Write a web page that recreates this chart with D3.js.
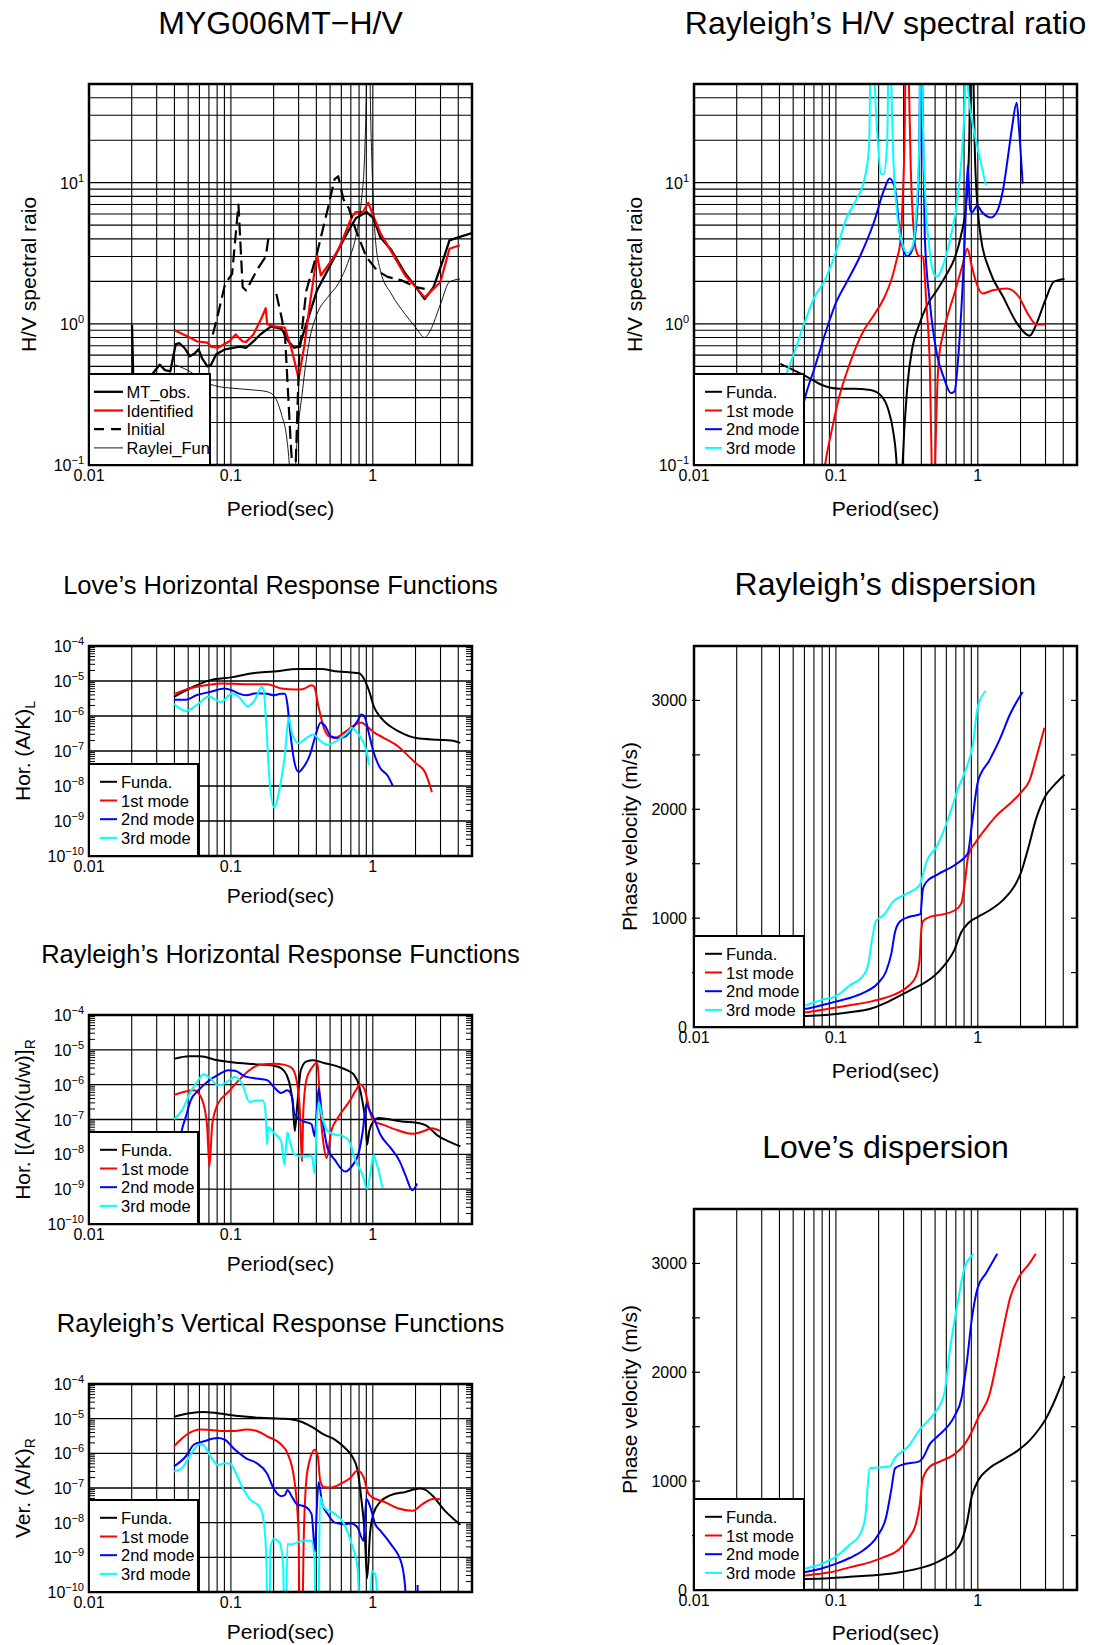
<!DOCTYPE html>
<html>
<head>
<meta charset="utf-8">
<script src="https://cdn.jsdelivr.net/npm/d3@7"></script>
<style>
  body { margin: 0; background: #fff; }
  svg { display: block; }
</style>
</head>
<body>
<script>
// ---------- axes ----------
const periodDomain = [0.01, 5];
const periodLabels = [0.01, 0.1, 1];
const hvDomain = [0.1, 50];
const respDomain = [1e-10, 1e-4];
const velDomain = [0, 3500];
const velLabels = [0, 1000, 2000, 3000];
const velMinorStep = 500;
const modeNames = ["Funda.", "1st mode", "2nd mode", "3rd mode"];
const modeColors = ["#000000", "#ff0000", "#0000ff", "#00ffff"];

// ---------- observed / identified H/V (period s, H/V) ----------
const hvMtObs = [[0.0201,0.98],[0.0205,0.42],[0.025,0.38],[0.0289,0.46],[0.0315,0.514],[0.0343,0.47],[0.0374,0.46],[0.0408,0.715],[0.0432,0.73],[0.047,0.677],[0.0513,0.59],[0.0559,0.62],[0.0592,0.66],[0.0627,0.57],[0.0683,0.50],[0.0723,0.51],[0.0788,0.61],[0.091,0.66],[0.1146,0.69],[0.128,0.677],[0.144,0.75],[0.161,0.84],[0.192,0.96],[0.228,0.92],[0.255,0.75],[0.279,0.677],[0.303,0.69],[0.34,0.995],[0.404,1.72],[0.48,2.39],[0.57,3.33],[0.677,4.6],[0.759,5.6],[0.902,6.2],[1.01,5.6],[1.13,4.1],[1.35,3.33],[1.69,2.28],[2.01,1.82],[2.32,1.50],[2.68,1.82],[3.18,2.98],[3.47,3.9],[4.0,4.1],[5.0,4.4]];
const hvIdentified = [[0.0401,0.9],[0.0513,0.80],[0.058,0.75],[0.0683,0.735],[0.0723,0.69],[0.081,0.677],[0.097,0.75],[0.108,0.84],[0.121,0.75],[0.128,0.745],[0.144,0.84],[0.161,1.05],[0.176,1.29],[0.18,0.995],[0.203,0.96],[0.24,0.94],[0.27,0.64],[0.30,0.41],[0.33,0.71],[0.36,1.38],[0.404,3.1],[0.43,2.2],[0.51,2.8],[0.57,3.33],[0.64,4.4],[0.71,5.7],[0.759,6.2],[0.85,6.2],[0.93,7.2],[1.01,5.8],[1.13,4.4],[1.35,3.25],[1.69,2.2],[2.01,1.82],[2.32,1.54],[2.99,1.97],[3.47,3.4],[4.1,3.6]];
const hvInitial = [[0.0745,0.84],[0.0811,1.17],[0.091,1.92],[0.102,2.26],[0.113,7.0],[0.121,1.82],[0.128,1.72],[0.152,2.39],[0.176,3.0],[0.186,4.39],[0.196,null],[0.209,1.63],[0.228,1.1],[0.241,0.80],[0.263,0.153],[0.27,0.1],[0.278,0.03],[0.286,0.1],[0.303,0.607],[0.34,1.72],[0.404,3.15],[0.48,6.44],[0.538,10.6],[0.57,11.1],[0.621,7.62],[0.677,6.6],[0.759,4.6],[0.902,2.97],[1.07,2.39],[1.27,2.15],[1.60,2.03],[2.01,1.82],[2.32,1.77]];
const hvRayleiFun = [[0.0401,0.514],[0.0513,0.46],[0.0644,0.391],[0.0811,0.36],[0.102,0.35],[0.144,0.34],[0.181,0.33],[0.203,0.305],[0.228,0.225],[0.248,0.153],[0.258,0.1],[0.272,0.03],[0.286,0.1],[0.321,0.35],[0.361,0.80],[0.404,1.17],[0.48,1.54],[0.57,1.92],[0.677,2.83],[0.759,4.15],[0.828,7.19],[0.877,16.4],[0.905,60],[0.93,1000],[0.955,60],[0.989,12.5],[1.04,4.15],[1.13,2.39],[1.35,1.63],[1.69,1.17],[2.01,0.94],[2.32,0.80],[2.53,0.89],[3.0,1.38],[3.47,1.98],[4.12,2.08]];

// ---------- Rayleigh H/V by mode ----------
const rhvFunda = [[0.0406,0.52],[0.0503,0.47],[0.063,0.42],[0.079,0.37],[0.105,0.347],[0.132,0.347],[0.175,0.34],[0.208,0.31],[0.233,0.25],[0.254,0.17],[0.268,0.1],[0.281,0.02],[0.295,0.1],[0.318,0.351],[0.346,0.68],[0.388,1.0],[0.433,1.32],[0.515,1.73],[0.61,2.29],[0.68,2.85],[0.76,4.19],[0.83,7.26],[0.87,19.6],[0.885,60],[0.905,400],[0.933,50],[0.961,12.6],[1.047,4.19],[1.205,2.42],[1.51,1.55],[1.90,1.0],[2.32,0.824],[2.59,1.0],[2.99,1.47],[3.44,1.99],[4.08,2.08]];
const rhvMode1 = [[0.08,0.07],[0.0839,0.1],[0.094,0.181],[0.105,0.298],[0.125,0.52],[0.157,0.896],[0.185,1.15],[0.22,1.55],[0.246,2.05],[0.268,2.85],[0.284,3.75],[0.295,7.26],[0.305,21.9],[0.316,400],[0.327,50],[0.337,12.6],[0.356,4.19],[0.366,3.36],[0.388,3.01],[0.41,3.01],[0.434,1.39],[0.46,0.462],[0.473,0.1],[0.487,0.02],[0.501,0.1],[0.53,0.546],[0.577,0.896],[0.684,1.64],[0.788,2.70],[0.844,3.40],[0.908,2.55],[0.961,2.05],[1.076,1.64],[1.276,1.73],[1.60,1.78],[1.95,1.55],[2.25,1.18],[2.59,0.989],[2.99,0.989]];
const rhvMode2 = [[0.055,0.2],[0.0614,0.315],[0.0708,0.489],[0.0839,0.847],[0.0995,1.39],[0.118,1.94],[0.148,3.01],[0.185,5.22],[0.22,9.06],[0.239,10.7],[0.261,9.06],[0.284,4.19],[0.318,3.01],[0.346,3.36],[0.377,7.26],[0.388,21.9],[0.397,400],[0.406,50],[0.423,4.19],[0.46,1.39],[0.515,0.609],[0.577,0.414],[0.646,0.323],[0.684,0.332],[0.745,0.802],[0.811,4.19],[0.849,13.3],[0.883,6.50],[0.908,6.15],[0.989,6.87],[1.076,6.15],[1.24,5.67],[1.39,6.50],[1.51,9.06],[1.65,16.6],[1.74,24.4],[1.88,36.9],[1.95,24.4],[2.07,9.84]];
const rhvMode3 = [[0.045,0.45],[0.0504,0.609],[0.0597,1.0],[0.0708,1.55],[0.0839,2.05],[0.0995,3.18],[0.118,5.52],[0.14,7.67],[0.157,10.1],[0.171,17.5],[0.18,400],[0.188,50],[0.196,21.9],[0.208,11.6],[0.217,11.5],[0.23,19.6],[0.239,400],[0.246,50],[0.253,16.6],[0.268,6.5],[0.292,3.75],[0.318,3.18],[0.346,3.5],[0.366,5.52],[0.388,21.9],[0.397,400],[0.406,50],[0.423,9.57],[0.46,3.18],[0.487,2.29],[0.515,2.16],[0.577,2.70],[0.646,4.19],[0.724,8.11],[0.788,21.9],[0.815,45],[0.835,400],[0.849,50],[0.933,24.4],[1.047,14.1],[1.14,9.57]];

// ---------- Love horizontal response ----------
const lhFunda = [[0.0397,3.5e-6],[0.051,6.1e-6],[0.072,1.06e-5],[0.1,1.27e-5],[0.143,1.67e-5],[0.2,1.86e-5],[0.3,2.19e-5],[0.43,2.19e-5],[0.57,1.86e-5],[0.71,1.75e-5],[0.8,1.67e-5],[0.877,1.06e-5],[0.955,4.35e-6],[1.01,2.0e-6],[1.135,9.1e-7],[1.27,5.8e-7],[1.51,3.7e-7],[2.02,2.35e-7],[2.85,2.1e-7],[3.58,2.0e-7],[4.14,1.7e-7]];
const lhMode1 = [[0.0397,4.2e-6],[0.051,6.1e-6],[0.072,7.9e-6],[0.0854,8.5e-6],[0.128,8.1e-6],[0.18,8.1e-6],[0.227,6.1e-6],[0.286,5.7e-6],[0.32,5.8e-6],[0.37,7.6e-6],[0.387,6.8e-6],[0.415,1.78e-6],[0.452,4.6e-7],[0.493,2.6e-7],[0.537,2.35e-7],[0.603,2.96e-7],[0.676,4.2e-7],[0.759,5.8e-7],[0.827,6.5e-7],[0.902,5.2e-7],[1.01,3.5e-7],[1.20,2.35e-7],[1.51,1.35e-7],[1.80,6.9e-8],[2.02,4.4e-8],[2.33,2.5e-8],[2.61,6.6e-9]];
const lhMode2 = [[0.0397,2.9e-6],[0.048,2.9e-6],[0.057,3.9e-6],[0.072,4.9e-6],[0.09,6.1e-6],[0.101,5.5e-6],[0.114,4.35e-6],[0.128,3.9e-6],[0.152,4.5e-6],[0.18,4.35e-6],[0.2,3.9e-6],[0.226,4.35e-6],[0.24,4.35e-6],[0.25,2.2e-6],[0.26,4.6e-7],[0.28,4.9e-8],[0.3,2.5e-8],[0.32,3.2e-8],[0.36,7.7e-8],[0.39,2.35e-7],[0.43,6.5e-7],[0.46,5.2e-7],[0.51,2.6e-7],[0.57,2.35e-7],[0.64,2.6e-7],[0.71,4.2e-7],[0.78,7.2e-7],[0.83,1.1e-6],[0.88,9.1e-7],[0.93,3.7e-7],[1.01,9.6e-8],[1.13,3.2e-8],[1.27,2.0e-8],[1.38,1.03e-8]];
const lhMode3 = [[0.0397,2.2e-6],[0.048,1.4e-6],[0.057,2.0e-6],[0.07,3.6e-6],[0.085,2.5e-6],[0.101,4.35e-6],[0.114,3.5e-6],[0.131,1.9e-6],[0.147,2.8e-6],[0.165,6.8e-6],[0.17,5.5e-6],[0.178,4.6e-7],[0.186,2.0e-8],[0.202,2.4e-9],[0.22,8.3e-9],[0.24,7.7e-8],[0.255,9.1e-7],[0.27,3.0e-7],[0.3,1.7e-7],[0.34,2.35e-7],[0.38,2.96e-7],[0.43,1.9e-7],[0.48,1.5e-7],[0.57,2.1e-7],[0.68,3.7e-7],[0.71,4.6e-7],[0.76,3.7e-7],[0.85,1.9e-7],[0.9,1.07e-7],[0.94,4.0e-8]];

// ---------- Rayleigh horizontal response ----------
const rhFunda = [[0.0397,5.5e-6],[0.051,6.5e-6],[0.0605,6.5e-6],[0.0806,5.0e-6],[0.114,4.2e-6],[0.143,3.9e-6],[0.2,3.5e-6],[0.227,2.95e-6],[0.247,1.9e-6],[0.262,8.7e-7],[0.273,2.8e-7],[0.282,4.7e-8],[0.294,2.8e-7],[0.311,2.6e-6],[0.339,4.6e-6],[0.381,5.0e-6],[0.452,4.2e-6],[0.57,3.3e-6],[0.658,2.6e-6],[0.738,1.9e-6],[0.804,8.7e-7],[0.851,2.8e-7],[0.891,7.3e-8],[0.912,1.9e-8],[0.944,4.7e-8],[1.01,8.7e-8],[1.10,1.1e-7],[1.27,1.03e-7],[1.60,8.7e-8],[2.02,8.1e-8],[2.40,6.6e-8],[2.85,3.5e-8],[3.38,2.4e-8],[4.14,1.7e-8]];
const rhMode1 = [[0.0397,5.1e-7],[0.048,6.4e-7],[0.055,6.9e-7],[0.0622,4.0e-7],[0.0678,7.3e-8],[0.0706,4.5e-9],[0.0739,7.3e-8],[0.081,2.8e-7],[0.096,6.2e-7],[0.114,1.35e-6],[0.135,2.6e-6],[0.16,3.7e-6],[0.2,4.0e-6],[0.24,3.7e-6],[0.27,2.95e-6],[0.29,1.35e-6],[0.306,1.8e-7],[0.317,6.2e-9],[0.324,1.8e-7],[0.34,1.35e-6],[0.37,2.95e-6],[0.403,4.2e-6],[0.41,3.3e-6],[0.427,1.8e-7],[0.45,1.9e-8],[0.473,7.8e-9],[0.51,4.7e-8],[0.57,1.15e-7],[0.68,3.2e-7],[0.76,6.9e-7],[0.813,1.03e-6],[0.88,6.9e-7],[0.95,1.8e-7],[1.01,9.1e-8],[1.2,6.9e-8],[1.5,4.9e-8],[1.9,3.9e-8],[2.3,4.7e-8],[2.6,5.6e-8],[2.98,4.7e-8]];
const rhMode2 = [[0.043,1.5e-8],[0.045,4.7e-8],[0.048,1.15e-7],[0.052,3.5e-7],[0.059,6.9e-7],[0.068,1.2e-6],[0.081,1.9e-6],[0.096,2.6e-6],[0.107,2.5e-6],[0.127,1.7e-6],[0.152,1.5e-6],[0.18,1.35e-6],[0.2,8.7e-7],[0.226,5.8e-7],[0.25,6.9e-7],[0.27,4.4e-7],[0.28,1.45e-7],[0.32,9.1e-8],[0.37,7.3e-8],[0.39,3.3e-8],[0.40,1.15e-7],[0.415,7.7e-7],[0.44,1.15e-7],[0.48,1.5e-8],[0.54,6.9e-9],[0.64,3.2e-9],[0.71,4.5e-9],[0.80,1.2e-8],[0.85,4.7e-8],[0.90,2.8e-7],[0.95,1.8e-7],[1.01,1.15e-7],[1.13,3.7e-8],[1.34,1.5e-8],[1.55,6.2e-9],[1.7,2.5e-9],[1.9,9.3e-10],[2.05,1.45e-9]];
const rhMode3 = [[0.0397,1.02e-7],[0.045,1.8e-7],[0.052,6.2e-7],[0.059,1.35e-6],[0.064,2.0e-6],[0.072,1.5e-6],[0.081,9.6e-7],[0.09,1.07e-6],[0.101,1.5e-6],[0.107,1.7e-6],[0.12,1.07e-6],[0.135,3.2e-7],[0.152,3.5e-7],[0.168,3.5e-7],[0.175,1.8e-7],[0.18,1.9e-8],[0.183,6.0e-8],[0.2,4.2e-8],[0.226,2.4e-8],[0.238,5.0e-9],[0.25,4.2e-8],[0.26,2.4e-8],[0.28,9.8e-9],[0.32,8.7e-9],[0.37,9.3e-9],[0.39,2.8e-9],[0.40,4.7e-8],[0.415,3.2e-7],[0.44,1.15e-7],[0.48,4.7e-8],[0.54,3.7e-8],[0.62,3.3e-8],[0.68,2.4e-8],[0.76,6.2e-9],[0.85,2.5e-9],[0.91,1.03e-9],[0.98,5.0e-9],[1.01,9.8e-9],[1.07,5.0e-9],[1.17,1.1e-9]];

// ---------- Rayleigh vertical response ----------
const rvFunda = [[0.0397,1.14e-5],[0.051,1.43e-5],[0.064,1.56e-5],[0.081,1.43e-5],[0.114,1.19e-5],[0.16,1.06e-5],[0.226,1.0e-5],[0.27,9.5e-6],[0.32,7.9e-6],[0.38,5.5e-6],[0.45,3.5e-6],[0.54,2.5e-6],[0.64,1.4e-6],[0.716,8.1e-7],[0.781,3.3e-7],[0.827,5.5e-8],[0.877,4.7e-9],[0.912,2.5e-10],[0.955,4.7e-9],[1.01,1.8e-8],[1.13,4.0e-8],[1.34,6.2e-8],[1.7,7.7e-8],[2.14,9.6e-8],[2.33,9.0e-8],[2.69,5.5e-8],[3.19,2.3e-8],[3.69,1.3e-8],[4.14,8.7e-9]];
const rvMode1 = [[0.0397,1.6e-6],[0.051,3.9e-6],[0.0605,4.9e-6],[0.072,4.7e-6],[0.09,4.4e-6],[0.107,4.4e-6],[0.128,4.9e-6],[0.152,4.4e-6],[0.18,3.1e-6],[0.226,1.8e-6],[0.25,1.02e-6],[0.28,1.7e-7],[0.30,4.7e-9],[0.306,1e-12],[0.316,1e-12],[0.325,1.9e-9],[0.34,1.7e-7],[0.36,6.5e-7],[0.39,1.26e-6],[0.41,8.1e-7],[0.425,1.7e-7],[0.45,1.07e-7],[0.51,1.03e-7],[0.6,1.35e-7],[0.69,1.9e-7],[0.78,3.2e-7],[0.86,2.1e-7],[0.93,6.9e-8],[1.01,5.2e-8],[1.2,4.0e-8],[1.5,2.6e-8],[1.9,2.2e-8],[2.25,3.5e-8],[2.7,4.9e-8],[3.0,4.7e-8]];
const rvMode2 = [[0.0397,4.2e-7],[0.048,8.1e-7],[0.055,1.8e-6],[0.064,2.2e-6],[0.081,2.75e-6],[0.09,2.5e-6],[0.107,1.26e-6],[0.128,7.2e-7],[0.152,5.2e-7],[0.18,2.6e-7],[0.2,9.6e-8],[0.226,5.8e-8],[0.24,6.2e-8],[0.25,8.7e-8],[0.27,5.5e-8],[0.29,3.5e-8],[0.34,2.8e-8],[0.37,1.8e-8],[0.392,1.5e-9],[0.40,1.2e-8],[0.415,1.5e-7],[0.44,3.5e-8],[0.48,1.8e-8],[0.54,1.0e-8],[0.64,9.0e-9],[0.71,9.5e-9],[0.78,7.3e-9],[0.86,3.0e-9],[0.90,4.9e-8],[0.96,2.8e-8],[1.04,9.0e-9],[1.13,5.9e-9],[1.34,2.4e-9],[1.6,6.3e-10],[1.7,1e-10],[1.75,1e-12],[1.9,null],[2.04,1e-12],[2.07,1.6e-10]];
const rvMode3 = [[0.0397,3.0e-7],[0.045,3.7e-7],[0.052,9.1e-7],[0.06,1.8e-6],[0.063,1.8e-6],[0.072,8.1e-7],[0.081,4.6e-7],[0.09,5.2e-7],[0.099,5.0e-7],[0.107,3.0e-7],[0.12,1.07e-7],[0.135,4.9e-8],[0.16,2.8e-8],[0.17,1.15e-8],[0.178,7.9e-10],[0.182,1e-12],[0.186,1e-12],[0.19,1.9e-9],[0.2,3.4e-9],[0.22,2.7e-9],[0.234,5.0e-10],[0.238,1e-12],[0.242,1e-12],[0.25,2.4e-9],[0.27,2.4e-9],[0.32,3.0e-9],[0.37,3.0e-9],[0.39,6.3e-10],[0.395,1e-12],[0.41,1e-12],[0.425,5.5e-8],[0.45,2.8e-8],[0.54,1.8e-8],[0.62,1.0e-8],[0.71,2.4e-9],[0.78,5.0e-10],[0.83,1e-12],[0.93,1e-12],[0.98,4.0e-10],[1.04,3.2e-10],[1.13,1e-12]];

// ---------- Rayleigh dispersion (period s, m/s) ----------
const rdFunda = [[0.04,95],[0.0614,102],[0.0887,112],[0.125,135],[0.175,167],[0.22,217],[0.276,282],[0.346,348],[0.41,397],[0.487,463],[0.577,561],[0.684,709],[0.766,873],[0.858,955],[1.0,1011],[1.205,1070],[1.51,1168],[1.79,1283],[2.01,1415],[2.25,1628],[2.59,1923],[2.99,2120],[3.44,2219],[4.08,2317]];
const rdMode1 = [[0.04,120],[0.0614,135],[0.0887,167],[0.125,200],[0.175,233],[0.22,266],[0.276,315],[0.327,381],[0.366,463],[0.388,610],[0.399,873],[0.41,971],[0.46,1011],[0.545,1030],[0.684,1070],[0.766,1136],[0.811,1332],[0.858,1579],[0.961,1693],[1.14,1825],[1.35,1940],[1.69,2054],[2.01,2153],[2.32,2268],[2.59,2481],[2.95,2750]];
const rdMode2 = [[0.04,145],[0.0614,167],[0.0793,200],[0.0995,233],[0.125,266],[0.157,315],[0.196,397],[0.226,512],[0.246,676],[0.261,873],[0.284,971],[0.327,1011],[0.394,1037],[0.41,1267],[0.434,1332],[0.515,1398],[0.704,1497],[0.85,1595],[0.908,1858],[1.0,2251],[1.205,2448],[1.43,2645],[1.69,2875],[2.07,3078]];
const rdMode3 = [[0.04,170],[0.0614,200],[0.0793,249],[0.0995,282],[0.125,381],[0.157,479],[0.168,561],[0.18,807],[0.191,971],[0.22,1037],[0.253,1152],[0.309,1218],[0.388,1300],[0.41,1398],[0.434,1513],[0.515,1661],[0.61,1890],[0.724,2186],[0.858,2432],[0.919,2580],[1.0,2941],[1.14,3088]];

// ---------- Love dispersion ----------
const ldFunda = [[0.04,98],[0.0614,102],[0.0887,109],[0.125,121],[0.175,134],[0.22,144],[0.276,160],[0.346,185],[0.41,208],[0.487,240],[0.577,288],[0.684,351],[0.766,447],[0.834,607],[0.908,863],[1.0,1000],[1.205,1118],[1.51,1198],[1.90,1278],[2.32,1374],[2.67,1470],[2.99,1565],[3.44,1725],[4.08,1965]];
const ldMode1 = [[0.04,115],[0.0614,134],[0.0887,160],[0.125,208],[0.175,256],[0.22,304],[0.276,367],[0.327,479],[0.366,607],[0.388,767],[0.41,1022],[0.46,1134],[0.545,1182],[0.684,1246],[0.811,1342],[0.908,1454],[1.017,1597],[1.205,1789],[1.35,2077],[1.51,2396],[1.69,2684],[1.95,2875],[2.32,3003],[2.56,3089]];
const ldMode2 = [[0.04,140],[0.0614,166],[0.0793,198],[0.0995,240],[0.125,294],[0.157,367],[0.196,495],[0.226,671],[0.246,927],[0.261,1118],[0.292,1150],[0.388,1182],[0.41,1214],[0.46,1342],[0.515,1406],[0.684,1597],[0.766,1757],[0.834,2077],[0.908,2492],[1.0,2780],[1.14,2907],[1.37,3089]];
const ldMode3 = [[0.04,165],[0.0614,198],[0.0793,240],[0.0995,304],[0.125,415],[0.148,511],[0.161,671],[0.173,1118],[0.196,1125],[0.239,1134],[0.261,1214],[0.327,1326],[0.388,1470],[0.487,1613],[0.577,1789],[0.646,2268],[0.724,2652],[0.811,2971],[0.933,3083]];

// ---------- drawing ----------
const FONT = '"Liberation Sans", Arial, Helvetica, sans-serif';
const svg = d3.select("body").append("svg")
  .attr("width", 1095).attr("height", 1645)
  .attr("font-family", FONT);

const isDecade = v => Math.abs(Math.log10(v) - Math.round(Math.log10(v))) < 1e-6;
const expLabel = v => {
  const e = Math.round(Math.log10(v));
  return e < 0 ? "\u2212" + (-e) : String(e);
};
const fmtPeriod = d3.format("~g");
let clipCount = 0;

function drawPanel(p) {
  const g = svg.append("g");
  const x = d3.scaleLog().domain(periodDomain).range([p.left, p.right]);
  const y = (p.kind === "vel" ? d3.scaleLinear() : d3.scaleLog())
    .domain(p.yDomain).range([p.bottom, p.top]);

  // title
  g.append("text")
    .attr("x", (p.left + p.right) / 2).attr("y", p.titleY)
    .attr("text-anchor", "middle").attr("font-size", p.titleSize)
    .text(p.title);

  // vertical grid at every 1..9 multiple
  const xGrid = x.ticks().filter(v => v > periodDomain[0] * 1.0001 && v < periodDomain[1] * 0.9999);
  g.append("g").selectAll("line").data(xGrid).join("line")
    .attr("x1", d => x(d)).attr("x2", d => x(d))
    .attr("y1", p.top).attr("y2", p.bottom)
    .attr("stroke", "#000").attr("stroke-width", 1.1);

  // horizontal grid / ticks
  if (p.kind === "hv") {
    const yGrid = y.ticks().filter(v => v > p.yDomain[0] * 1.0001 && v < p.yDomain[1] * 0.9999);
    g.append("g").selectAll("line").data(yGrid).join("line")
      .attr("x1", p.left).attr("x2", p.right)
      .attr("y1", d => y(d)).attr("y2", d => y(d))
      .attr("stroke", "#000").attr("stroke-width", 1.1);
  } else if (p.kind === "resp") {
    const all = y.ticks().filter(v => v > p.yDomain[0] * 1.0001 && v < p.yDomain[1] * 0.9999);
    const major = all.filter(isDecade);
    const minor = all.filter(v => !isDecade(v));
    g.append("g").selectAll("line").data(major).join("line")
      .attr("x1", p.left).attr("x2", p.right)
      .attr("y1", d => y(d)).attr("y2", d => y(d))
      .attr("stroke", "#000").attr("stroke-width", 1.3);
    [[p.left, p.left + 6], [p.right - 6, p.right]].forEach(([a, b]) => {
      g.append("g").selectAll("line").data(minor).join("line")
        .attr("x1", a).attr("x2", b)
        .attr("y1", d => y(d)).attr("y2", d => y(d))
        .attr("stroke", "#000").attr("stroke-width", 1);
    });
  } else {
    const vt = d3.range(velDomain[0] + velMinorStep, velDomain[1], velMinorStep);
    [[p.left - 2, p.left + 6], [p.right - 6, p.right]].forEach(([a, b]) => {
      g.append("g").selectAll("line").data(vt).join("line")
        .attr("x1", a).attr("x2", b)
        .attr("y1", d => y(d)).attr("y2", d => y(d))
        .attr("stroke", "#000").attr("stroke-width", 1.2);
    });
  }

  // data curves, clipped to the frame
  const clipId = "clip" + (clipCount++);
  svg.append("clipPath").attr("id", clipId).append("rect")
    .attr("x", p.left).attr("y", p.top)
    .attr("width", p.right - p.left).attr("height", p.bottom - p.top);
  const cg = g.append("g").attr("clip-path", `url(#${clipId})`);
  p.series.forEach(s => {
    const line = d3.line()
      .defined(d => d[1] != null)
      .x(d => x(d[0])).y(d => y(d[1]))
      .curve(s.linear ? d3.curveLinear : d3.curveMonotoneX);
    cg.append("path").datum(s.data)
      .attr("d", line)
      .attr("fill", "none")
      .attr("stroke", s.color)
      .attr("stroke-width", s.width || 2)
      .attr("stroke-dasharray", s.dash || null)
      .attr("stroke-linejoin", "round");
  });

  // frame
  g.append("rect")
    .attr("x", p.left).attr("y", p.top)
    .attr("width", p.right - p.left).attr("height", p.bottom - p.top)
    .attr("fill", "none").attr("stroke", "#000").attr("stroke-width", 2.5);

  // x tick labels
  g.append("g").selectAll("text").data(periodLabels).join("text")
    .attr("x", d => x(d)).attr("y", p.bottom + 16)
    .attr("text-anchor", "middle").attr("font-size", 16)
    .text(d => fmtPeriod(d));

  // y tick labels
  if (p.kind === "vel") {
    g.append("g").selectAll("text").data(velLabels).join("text")
      .attr("x", p.left - 7).attr("y", d => y(d) + 6)
      .attr("text-anchor", "end").attr("font-size", 16)
      .text(d => d);
  } else {
    const decs = y.ticks().filter(isDecade);
    decs.forEach(v => {
      const t = g.append("text")
        .attr("x", p.left - 5).attr("y", y(v) + 6)
        .attr("text-anchor", "end").attr("font-size", 16);
      t.append("tspan").text("10");
      t.append("tspan").attr("dy", -7).attr("font-size", 11).text(expLabel(v));
    });
  }

  // axis titles
  g.append("text")
    .attr("x", (p.left + p.right) / 2).attr("y", p.bottom + p.xLabelGap)
    .attr("text-anchor", "middle").attr("font-size", 21)
    .text("Period(sec)");
  const yl = g.append("text")
    .attr("transform", `translate(${p.yLabelX},${(p.top + p.bottom) / 2}) rotate(-90)`)
    .attr("text-anchor", "middle").attr("font-size", 21);
  yl.append("tspan").text(p.yLabel);
  if (p.yLabelSub) {
    yl.append("tspan").attr("dy", 5).attr("font-size", 14).text(p.yLabelSub);
  }

  // legend
  const L = p.legend;
  const lg = g.append("g");
  lg.append("rect")
    .attr("x", p.left).attr("y", p.bottom - L.h)
    .attr("width", L.w).attr("height", L.h)
    .attr("fill", "#fff").attr("stroke", "#000").attr("stroke-width", 2);
  p.series.forEach((s, i) => {
    const cy = p.bottom - L.h + 17.8 + i * 18.7;
    lg.append("line")
      .attr("x1", p.left + L.l1).attr("x2", p.left + L.l2)
      .attr("y1", cy).attr("y2", cy)
      .attr("stroke", s.color).attr("stroke-width", s.width || 2)
      .attr("stroke-dasharray", s.legendDash || null);
    lg.append("text")
      .attr("x", p.left + L.tx).attr("y", cy + 6)
      .attr("font-size", 16.5).text(s.name);
  });
}

const modeSeries = arrs => arrs.map((a, i) => ({ name: modeNames[i], color: modeColors[i], data: a }));

const LEFT = { left: 89, right: 472 };
const RIGHT = { left: 694, right: 1077 };
const modeLegend = { w: 110, h: 91, l1: 11, l2: 28, tx: 32 };
const respLegend = { w: 109, h: 92, l1: 11, l2: 28, tx: 32 };

drawPanel({
  ...LEFT, top: 84, bottom: 465, kind: "hv", yDomain: hvDomain, xLabelGap: 51,
  title: "MYG006MT\u2212H/V", titleY: 34, titleSize: 32,
  yLabel: "H/V spectral raio", yLabelX: 36,
  legend: { w: 121, h: 91, l1: 5, l2: 34, tx: 37.5 },
  series: [
    { name: "MT_obs.", color: "#000", data: hvMtObs, width: 2.3, linear: true },
    { name: "Identified", color: "#ff0000", data: hvIdentified, width: 2.2, linear: true },
    { name: "Initial", color: "#000", data: hvInitial, width: 2.2, linear: true, dash: "13,6", legendDash: "10,7" },
    { name: "Raylei_Fun", color: "#000", data: hvRayleiFun, width: 0.9 }
  ]
});

drawPanel({
  ...RIGHT, top: 84, bottom: 465, kind: "hv", yDomain: hvDomain, xLabelGap: 51,
  title: "Rayleigh\u2019s H/V spectral ratio", titleY: 34, titleSize: 32,
  yLabel: "H/V spectral raio", yLabelX: 642,
  legend: modeLegend,
  series: modeSeries([rhvFunda, rhvMode1, rhvMode2, rhvMode3])
});

drawPanel({
  ...LEFT, top: 646, bottom: 856, kind: "resp", yDomain: respDomain, xLabelGap: 47,
  title: "Love\u2019s Horizontal Response Functions", titleY: 594, titleSize: 25.5,
  yLabel: "Hor. (A/K)", yLabelSub: "L", yLabelX: 29.5,
  legend: respLegend,
  series: modeSeries([lhFunda, lhMode1, lhMode2, lhMode3])
});

drawPanel({
  ...RIGHT, top: 646, bottom: 1027, kind: "vel", yDomain: velDomain, xLabelGap: 51,
  title: "Rayleigh\u2019s dispersion", titleY: 595, titleSize: 32,
  yLabel: "Phase velocity (m/s)", yLabelX: 636.5,
  legend: modeLegend,
  series: modeSeries([rdFunda, rdMode1, rdMode2, rdMode3])
});

drawPanel({
  ...LEFT, top: 1015, bottom: 1224, kind: "resp", yDomain: respDomain, xLabelGap: 47,
  title: "Rayleigh\u2019s Horizontal Response Functions", titleY: 963, titleSize: 25.5,
  yLabel: "Hor. [(A/K)(u/w)]", yLabelSub: "R", yLabelX: 29.5,
  legend: respLegend,
  series: modeSeries([rhFunda, rhMode1, rhMode2, rhMode3])
});

drawPanel({
  ...LEFT, top: 1384, bottom: 1592, kind: "resp", yDomain: respDomain, xLabelGap: 47,
  title: "Rayleigh\u2019s Vertical Response Functions", titleY: 1332, titleSize: 25.5,
  yLabel: "Ver. (A/K)", yLabelSub: "R", yLabelX: 29.5,
  legend: respLegend,
  series: modeSeries([rvFunda, rvMode1, rvMode2, rvMode3])
});

drawPanel({
  ...RIGHT, top: 1209, bottom: 1590, kind: "vel", yDomain: velDomain, xLabelGap: 50,
  title: "Love\u2019s dispersion", titleY: 1158, titleSize: 32,
  yLabel: "Phase velocity (m/s)", yLabelX: 636.5,
  legend: modeLegend,
  series: modeSeries([ldFunda, ldMode1, ldMode2, ldMode3])
});
</script>
</body>
</html>
